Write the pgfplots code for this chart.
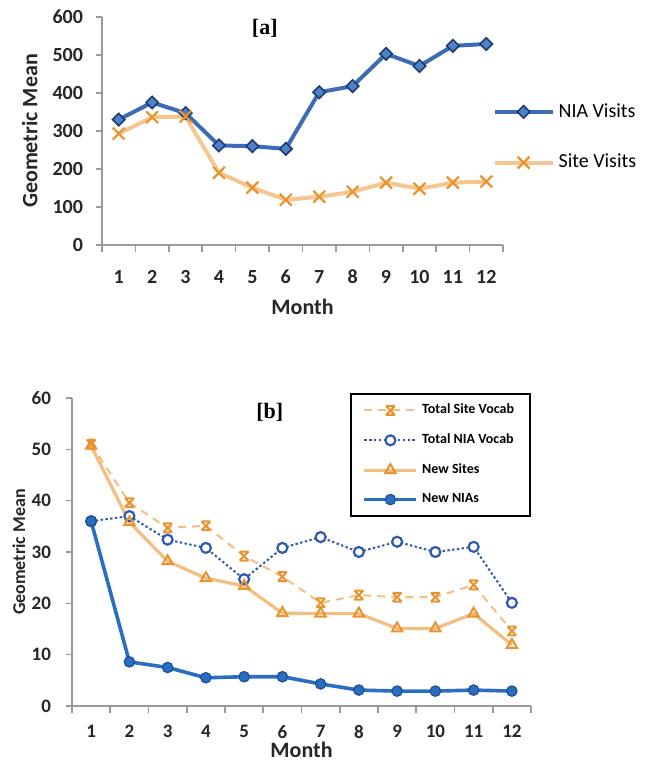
\documentclass[border=0pt]{standalone}
\usepackage{fontspec}
\setmainfont{Carlito}
\newfontfamily\tnr{Liberation Serif}
\usepackage{pgfplots}
\pgfplotsset{compat=1.18}

\definecolor{niaLine}{HTML}{3E6CB4}
\definecolor{niaFill}{HTML}{4F81C7}
\definecolor{niaEdge}{HTML}{1E3C73}
\definecolor{siteLine}{HTML}{F7C690}
\definecolor{siteMark}{HTML}{E8932E}
\definecolor{bNia}{HTML}{2A6EC1}
\definecolor{bNiaEdge}{HTML}{1D4F94}
\definecolor{bTot}{HTML}{2F5AAE}
\definecolor{bSiteLine}{HTML}{F6BD80}
\definecolor{axgray}{HTML}{9A9A9A}

\pgfdeclareplotmark{xstar}{%
  \pgfpathmoveto{\pgfqpoint{-\pgfplotmarksize}{-\pgfplotmarksize}}%
  \pgfpathlineto{\pgfqpoint{\pgfplotmarksize}{\pgfplotmarksize}}%
  \pgfpathmoveto{\pgfqpoint{-\pgfplotmarksize}{\pgfplotmarksize}}%
  \pgfpathlineto{\pgfqpoint{\pgfplotmarksize}{-\pgfplotmarksize}}%
  \pgfpathmoveto{\pgfqpoint{-\pgfplotmarksize}{\pgfplotmarksize}}%
  \pgfpathlineto{\pgfqpoint{\pgfplotmarksize}{\pgfplotmarksize}}%
  \pgfpathmoveto{\pgfqpoint{-\pgfplotmarksize}{-\pgfplotmarksize}}%
  \pgfpathlineto{\pgfqpoint{\pgfplotmarksize}{-\pgfplotmarksize}}%
  \pgfusepathqstroke}

\pgfplotsset{
  excel/.style={
    scale only axis,
    axis x line=bottom, axis y line=left,
    axis line style={draw=axgray, line width=0.8pt, -},
    tick align=outside,
    xmin=0.5, xmax=12.5, ymin=0,
    xtick={1,...,12},
    minor xtick={0.5,1.5,...,12.5},
    major x tick style={draw=none},
    minor x tick style={draw=axgray, line width=0.8pt},
    y tick style={draw=axgray, line width=0.8pt},
    major tick length=3pt, minor tick length=3.5pt,
    /pgf/number format/assume math mode=true,
    ticklabel style={text=black!85},
    label style={text=black!85},
  },
}

\begin{document}
\begin{tikzpicture}
\path[use as bounding box] (0,0) rectangle (323.5pt,384.5pt);

% ---------- panel a ----------
\begin{axis}[excel,
  at={(51pt,262pt)}, anchor=south west,
  width=200.5pt, height=114pt,
  ymax=600, ytick={0,100,...,600},
  ticklabel style={font=\fontsize{10}{12}\selectfont\bfseries},
  xticklabel style={yshift=-6pt},
  yticklabel style={xshift=-3pt},
  xlabel={Month}, ylabel={Geometric Mean},
  label style={font=\fontsize{11}{13}\selectfont\bfseries},
  xlabel style={at={(axis description cs:0.5,0)}, anchor=center, yshift=-31pt},
  ylabel style={at={(axis description cs:-0.18,0.5)}, anchor=center},
  legend style={draw=none, fill=none, at={(rel axis cs:0.973,0.64)}, anchor=north west,
    font=\fontsize{10}{12}\selectfont, row sep=13pt, inner sep=0pt,
    legend cell align=left},
  legend image code/.code={\draw[mark repeat=2,mark phase=2,#1] plot coordinates {(0pt,0pt) (14.5pt,0pt) (29pt,0pt)};},
]
\addplot[niaLine, line width=2pt, mark=square*, mark size=2.2pt,
  mark options={rotate=45, fill=niaFill, draw=niaEdge, line width=0.8pt, solid}]
  coordinates {(1,330) (2,375) (3,347) (4,262) (5,260) (6,253) (7,402) (8,418) (9,503) (10,471) (11,524) (12,529)};
\addlegendentry{NIA Visits}
\addplot[siteLine, line width=2pt, mark=x, mark size=4.2pt,
  mark options={draw=siteMark, line width=1.1pt, solid}]
  coordinates {(1,293) (2,336) (3,338) (4,190) (5,151) (6,119) (7,127) (8,140) (9,164) (10,148) (11,164) (12,167)};
\addlegendentry{Site Visits}
\node[font=\fontsize{11}{13}\selectfont\tnr\bfseries] at (rel axis cs:0.406,0.952) {[a]};
\end{axis}

% ---------- panel b ----------
\begin{axis}[excel,
  at={(36pt,31.5pt)}, anchor=south west,
  width=229.5pt, height=154pt,
  ymax=60, ytick={0,10,...,60},
  ticklabel style={font=\fontsize{9.5}{11}\selectfont\bfseries},
  xticklabel style={yshift=-3pt},
  yticklabel style={xshift=-4pt},
  xlabel={Month}, ylabel={Geometric Mean},
  xlabel style={font=\fontsize{11}{13}\selectfont\bfseries, at={(axis description cs:0.5,0)}, anchor=center, yshift=-22pt},
  ylabel style={font=\fontsize{9}{11}\selectfont\bfseries, at={(axis description cs:-0.1155,0.5)}, anchor=center},
  legend style={draw=black, line width=1pt, fill=white, at={(rel axis cs:1,1.016)}, anchor=north east,
    font=\fontsize{7}{8}\selectfont\bfseries, row sep=4.5pt, inner xsep=6pt, inner ysep=3pt,
    legend cell align=left, nodes={line width=0.4pt}},
  legend image code/.code={\draw[mark repeat=2,mark phase=2,#1] plot coordinates {(0pt,0pt) (13pt,0pt) (26pt,0pt)};},
]
\addplot[bSiteLine, line width=1pt, dash pattern=on 4pt off 3pt, mark=xstar, mark size=2.2pt,
  mark options={draw=siteMark, line width=1pt, solid}]
  coordinates {(1,51) (2,39.6) (3,34.7) (4,35.1) (5,29.2) (6,25.2) (7,20.1) (8,21.6) (9,21.2) (10,21.2) (11,23.6) (12,14.6)};
\addlegendentry{Total Site Vocab}
\addplot[bTot, line width=1pt, dash pattern=on 1.2pt off 1.2pt, mark=*, mark size=2.5pt,
  mark options={draw=bTot, fill=white, line width=1.1pt, solid}]
  coordinates {(1,36) (2,37) (3,32.4) (4,30.8) (5,24.7) (6,30.8) (7,32.9) (8,30) (9,32) (10,30) (11,31) (12,20.1)};
\addlegendentry{Total NIA Vocab}
\addplot[bSiteLine, line width=1.6pt, mark=triangle, mark size=3pt,
  mark options={draw=siteMark, line width=1pt, solid}]
  coordinates {(1,50.7) (2,35.8) (3,28.2) (4,24.9) (5,23.4) (6,18.1) (7,18) (8,18) (9,15.1) (10,15.1) (11,18) (12,11.9)};
\addlegendentry{New Sites}
\addplot[bNia, line width=1.8pt, mark=*, mark size=2.6pt,
  mark options={draw=bNiaEdge, fill=bNia, line width=0.6pt, solid}]
  coordinates {(1,36) (2,8.6) (3,7.5) (4,5.5) (5,5.7) (6,5.7) (7,4.3) (8,3.1) (9,2.9) (10,2.9) (11,3.1) (12,2.9)};
\addlegendentry{New NIAs}
\node[font=\fontsize{11}{13}\selectfont\tnr\bfseries] at (rel axis cs:0.431,0.955) {[b]};
\end{axis}
\end{tikzpicture}
\end{document}
